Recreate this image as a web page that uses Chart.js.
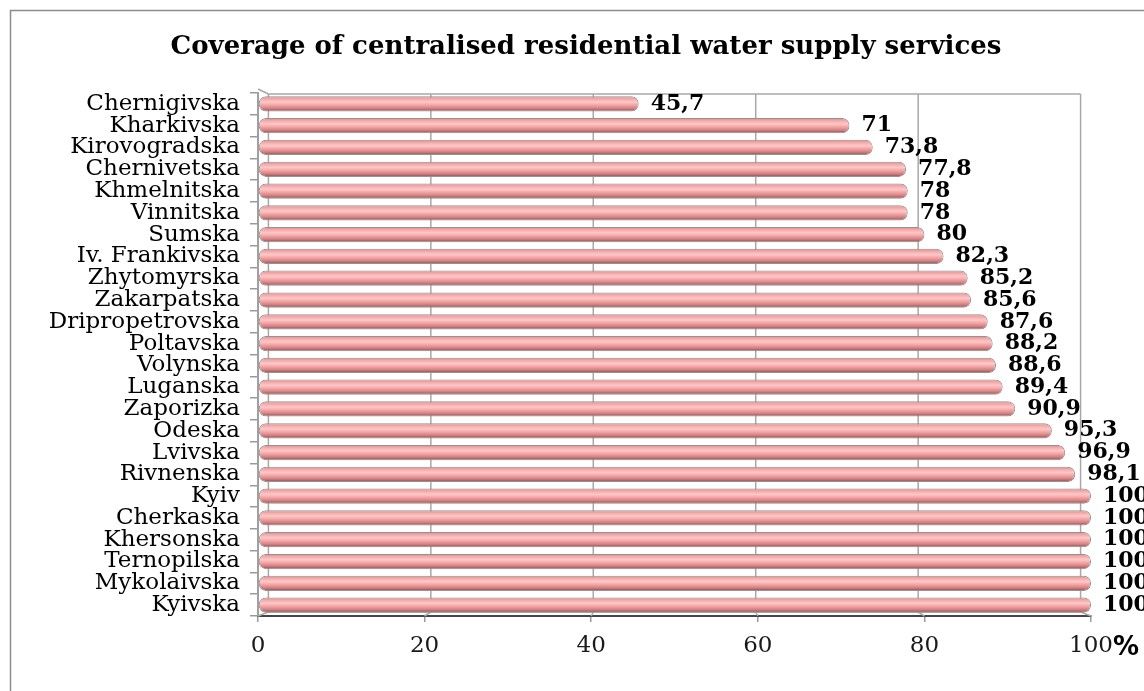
<!DOCTYPE html>
<html>
<head>
<meta charset="utf-8">
<title>Coverage of centralised residential water supply services</title>
<script src="https://cdn.jsdelivr.net/npm/chart.js@4.4.1/dist/chart.umd.min.js"></script>
<style>
  html, body { margin: 0; padding: 0; background: #ffffff; }
  #wrap { width: 1144px; height: 691px; position: relative; }
</style>
</head>
<body>
<div id="wrap"><canvas id="chart" width="1144" height="691"></canvas></div>
<script>
// Regions, listed top to bottom
const regions = [
  'Chernigivska', 'Kharkivska', 'Kirovogradska', 'Chernivetska', 'Khmelnitska',
  'Vinnitska', 'Sumska', 'Iv. Frankivska', 'Zhytomyrska', 'Zakarpatska',
  'Dripropetrovska', 'Poltavska', 'Volynska', 'Luganska', 'Zaporizka',
  'Odeska', 'Lvivska', 'Rivnenska', 'Kyiv', 'Cherkaska',
  'Khersonska', 'Ternopilska', 'Mykolaivska', 'Kyivska'
];

// Share of residents covered by centralised water supply, %
const coverage = [
  45.7, 71, 73.8, 77.8, 78,
  78, 80, 82.3, 85.2, 85.6,
  87.6, 88.2, 88.6, 89.4, 90.9,
  95.3, 96.9, 98.1, 100, 100,
  100, 100, 100, 100
];

// Value axis ticks
const axisTicks = [0, 20, 40, 60, 80, 100];
const axisUnit = '%';

const TITLE = 'Coverage of centralised residential water supply services';
const BAR_PCT = 0.7;

const serif = "'DejaVu Serif', 'Liberation Serif', serif";

// Cylinder-like shading across each bar
function barShade(c) {
  const chart = c.chart;
  const area = chart.chartArea;
  if (!area || !chart.scales.y) return '#f2a3a3';
  const yScale = chart.scales.y;
  const yc = yScale.getPixelForValue(c.dataIndex);
  const slot = (area.bottom - area.top) / regions.length;
  const h = slot * BAR_PCT / 2;
  const g = chart.ctx.createLinearGradient(0, yc - h, 0, yc + h);
  g.addColorStop(0.00, '#d88a8a');
  g.addColorStop(0.18, '#f5aaaa');
  g.addColorStop(0.38, '#ffc8c8');
  g.addColorStop(0.58, '#f4a4a4');
  g.addColorStop(0.80, '#d08080');
  g.addColorStop(1.00, '#884a4a');
  return g;
}

// Frame around the whole chart and the heading
const framePlugin = {
  id: 'frame',
  beforeDraw(chart) {
    const ctx = chart.ctx;
    ctx.save();
    ctx.fillStyle = '#ffffff';
    ctx.fillRect(0, 0, chart.width, chart.height);
    ctx.strokeStyle = '#8c8c8c';
    ctx.lineWidth = 1.5;
    ctx.strokeRect(10.5, 10.5, chart.width + 20, chart.height + 20);
    ctx.fillStyle = '#000000';
    ctx.font = "bold 26px " + serif;
    ctx.textAlign = 'center';
    ctx.textBaseline = 'middle';
    ctx.fillText(TITLE, 586, 47);
    ctx.restore();
  }
};

// Back wall, floor edges and perspective gridlines
const wallPlugin = {
  id: 'wall3d',
  beforeDatasetsDraw(chart) {
    const ctx = chart.ctx;
    const x = chart.scales.x;
    const a = chart.chartArea;
    const cx = x.getPixelForValue(50);
    const back = v => cx + (x.getPixelForValue(v) - cx) * 0.975;
    const backTop = a.top + 1;
    const backFloor = a.bottom - 4;
    ctx.save();
    ctx.strokeStyle = '#a8a8a8';
    ctx.lineWidth = 1.5;
    // top edge of back wall
    ctx.beginPath();
    ctx.moveTo(back(0), backTop);
    ctx.lineTo(back(100), backTop);
    ctx.stroke();
    axisTicks.forEach(v => {
      const bx = back(v);
      const fx = x.getPixelForValue(v);
      ctx.beginPath();
      ctx.moveTo(bx, backTop);
      ctx.lineTo(bx, backFloor);
      ctx.lineTo(fx, a.bottom);
      ctx.stroke();
    });
    // back floor edge
    ctx.beginPath();
    ctx.moveTo(back(0), backFloor);
    ctx.lineTo(back(100), backFloor);
    ctx.stroke();
    // top of side wall
    ctx.beginPath();
    ctx.moveTo(a.left, backTop - 5);
    ctx.lineTo(back(0), backTop);
    ctx.stroke();
    ctx.restore();
  }
};

// Value labels and the unit sign after the last tick
const labelPlugin = {
  id: 'valueLabels',
  afterDatasetsDraw(chart) {
    const ctx = chart.ctx;
    const meta = chart.getDatasetMeta(0);
    ctx.save();
    ctx.fillStyle = '#000000';
    ctx.font = "bold 22px " + serif;
    ctx.textAlign = 'left';
    ctx.textBaseline = 'middle';
    meta.data.forEach((bar, i) => {
      const txt = String(coverage[i]).replace('.', ',');
      ctx.fillText(txt, bar.x + 12, bar.y);
    });
    // unit sign next to the last tick label
    const x = chart.scales.x;
    ctx.font = "23px " + serif;
    const w = ctx.measureText(String(axisTicks[axisTicks.length - 1])).width;
    ctx.font = "bold 26px 'DejaVu Sans', sans-serif";
    ctx.textBaseline = 'middle';
    ctx.fillText(axisUnit, x.getPixelForValue(100) + w / 2, 648);
    ctx.restore();
  }
};

new Chart(document.getElementById('chart'), {
  type: 'bar',
  data: {
    labels: regions,
    datasets: [{
      data: coverage,
      backgroundColor: barShade,
      borderColor: '#939393',
      borderWidth: 1,
      borderRadius: 7,
      borderSkipped: false,
      barPercentage: BAR_PCT,
      categoryPercentage: 1
    }]
  },
  options: {
    indexAxis: 'y',
    responsive: false,
    animation: false,
    devicePixelRatio: 1,
    layout: { padding: { left: 10, right: 53, top: 93, bottom: 0 } },
    plugins: {
      legend: { display: false },
      tooltip: { enabled: false },
      title: { display: false }
    },
    scales: {
      x: {
        min: 0,
        max: 100,
        afterFit(scale) { scale.height = 75; },
        afterBuildTicks(scale) { scale.ticks = axisTicks.map(v => ({ value: v })); },
        ticks: {
          color: '#1a1a1a',
          font: { family: serif, size: 23 },
          padding: 10,
          maxRotation: 0
        },
        grid: { drawOnChartArea: false, drawTicks: true, tickLength: 6, color: '#9a9a9a', lineWidth: 1.5 },
        border: { display: true, color: '#454545', width: 2 }
      },
      y: {
        afterFit(scale) { scale.width = 248; },
        ticks: {
          color: '#000000',
          font: { family: serif, size: 23 },
          padding: 10,
          autoSkip: false
        },
        grid: { drawOnChartArea: false, drawTicks: true, tickLength: 8, color: '#9a9a9a', lineWidth: 1.5, offset: true },
        border: { display: true, color: '#a0a0a0', width: 2 }
      }
    }
  },
  plugins: [framePlugin, wallPlugin, labelPlugin]
});
</script>
</body>
</html>
